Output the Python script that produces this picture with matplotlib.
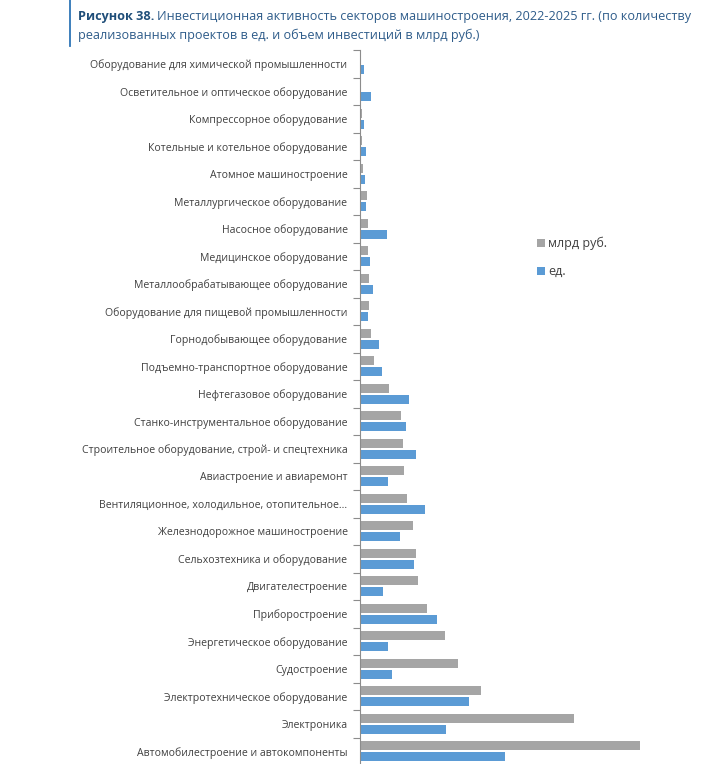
import matplotlib.pyplot as plt
import numpy as np

# Sectors, listed from top of chart to bottom
sectors = [
    "Оборудование для химической промышленности",
    "Осветительное и оптическое оборудование",
    "Компрессорное оборудование",
    "Котельные и котельное оборудование",
    "Атомное машиностроение",
    "Металлургическое оборудование",
    "Насосное оборудование",
    "Медицинское оборудование",
    "Металлообрабатывающее оборудование",
    "Оборудование для пищевой промышленности",
    "Горнодобывающее оборудование",
    "Подъемно-транспортное оборудование",
    "Нефтегазовое оборудование",
    "Станко-инструментальное оборудование",
    "Строительное оборудование, строй- и спецтехника",
    "Авиастроение и авиаремонт",
    "Вентиляционное, холодильное, отопительное...",
    "Железнодорожное машиностроение",
    "Сельхозтехника и оборудование",
    "Двигателестроение",
    "Приборостроение",
    "Энергетическое оборудование",
    "Судостроение",
    "Электротехническое оборудование",
    "Электроника",
    "Автомобилестроение и автокомпоненты",
]

# values (no axis scale shown, relative units)
invest_bln = [0.3, 0.3, 1.5, 1.5, 2.5, 6.5, 7.5, 7.5, 8.5, 8.5, 10.5, 13.5, 28.5,
              40.5, 42.5, 43.5, 46.5, 52.5, 55.5, 57.5, 66.5, 84.5, 97.5, 120.5,
              213.5, 279.5]
projects = [3.5, 10.5, 3.5, 5.5, 4.5, 5.5, 26.5, 9.5, 12.5, 7.5, 18.5, 21.5, 48.5,
            45.5, 55.5, 27.5, 64.5, 39.5, 53.5, 22.5, 76.5, 27.5, 31.5, 108.5,
            85.5, 144.5]

W, H = 717, 764
fig = plt.figure(figsize=(W / 100, H / 100), dpi=100)
plt.rcParams['font.family'] = ['Open Sans', 'DejaVu Sans']

# axes: y axis at x=360, spans y=50..765 px
ax = fig.add_axes([360 / W, (H - 765) / H, 340 / W, 715 / H])
y = np.arange(len(sectors))
bh = 0.33
b1 = ax.barh(y - 0.2, invest_bln, height=bh, color="#A5A5A5", label="млрд руб.")
b2 = ax.barh(y + 0.2, projects, height=bh, color="#5B9BD5", label="ед.")

ax.set_xlim(0, 340)
ax.set_ylim(len(sectors) - 0.5, -0.5)
for s in ["top", "right", "bottom"]:
    ax.spines[s].set_visible(False)
ax.spines["left"].set_color("#8C8C8C")
ax.xaxis.set_visible(False)

ax.set_yticks(np.arange(len(sectors) + 1) - 0.5)
ax.set_yticklabels([])
ax.tick_params(axis="y", which="major", length=5, color="#8C8C8C")
ax.set_yticks(y, minor=True)
ax.set_yticklabels(sectors, minor=True, fontsize=7.6, color="#404040")
ax.tick_params(axis="y", which="minor", length=0, pad=9)

ax.legend(handles=[b1, b2], loc="upper left", bbox_to_anchor=(537 / W, 1 - 237 / H),
          bbox_transform=fig.transFigure, frameon=False, fontsize=9,
          labelcolor="#404040",
          handlelength=0.6, handleheight=0.6, handletextpad=0.3, labelspacing=1.2,
          borderpad=0, borderaxespad=0)

# title block with blue left rule
fig.add_artist(plt.Line2D([70 / W, 70 / W], [1, 1 - 46 / H], color="#2E75B6", lw=1.3))
t1 = fig.text(78 / W, 1 - 20 / H, "Рисунок 38.", fontsize=9.1, fontweight="bold",
              color="#1F4E79", va="baseline")
fig.canvas.draw()
bb = t1.get_window_extent()
fig.text((bb.x1 + 3) / W, 1 - 20 / H,
         "Инвестиционная активность секторов машиностроения, 2022-2025 гг. (по количеству",
         fontsize=9.1, color="#2E5C8A", va="baseline")
fig.text(78 / W, 1 - 39 / H, "реализованных проектов в ед. и объем инвестиций в млрд руб.)",
         fontsize=9.1, color="#2E5C8A", va="baseline")

fig.savefig("out.png", dpi=100)
